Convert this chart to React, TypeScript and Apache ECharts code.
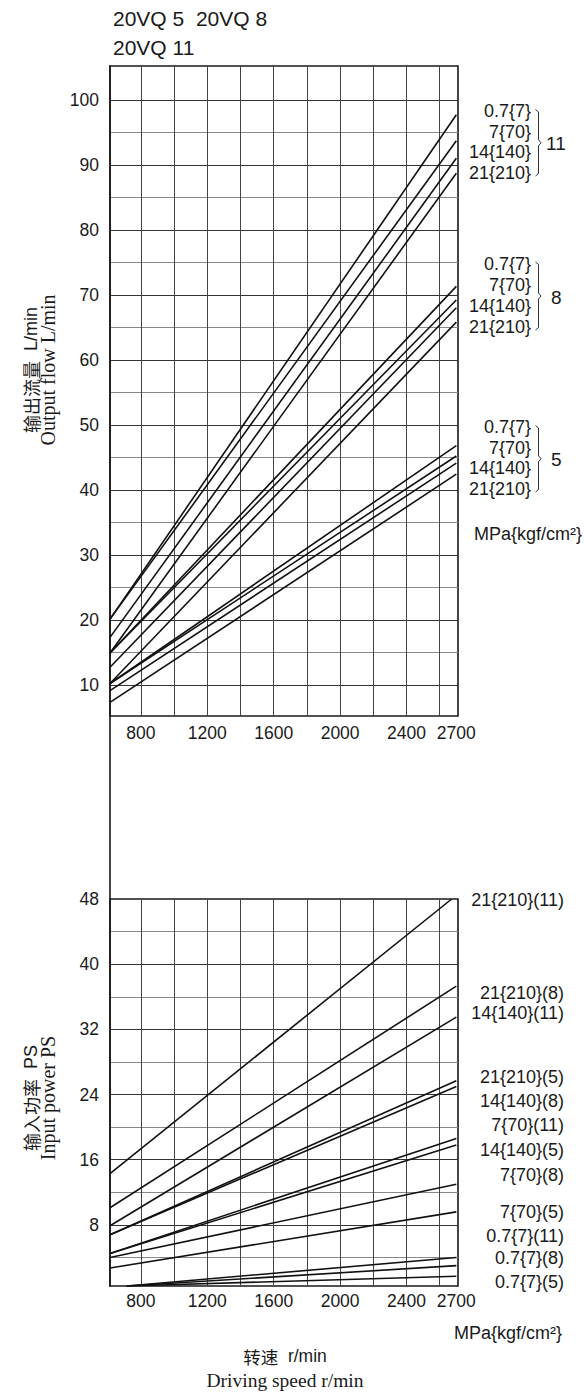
import React, { useEffect, useRef } from "react";
import * as echarts from "echarts";

// ---------- axes ----------
const speedMin = 614;
const speedMax = 2710;
const speedAxisLabels = [800, 1200, 1600, 2000, 2400, 2700];
const speedGridLines = [800, 1000, 1200, 1400, 1600, 1800, 2000, 2200, 2400, 2600];

const flowMin = 5.2;
const flowMax = 105.2;
const flowAxisLabels = [10, 20, 30, 40, 50, 60, 70, 80, 90, 100];
const flowGridLines = [10, 15, 20, 25, 30, 35, 40, 45, 50, 55, 60, 65, 70, 75, 80, 85, 90, 95, 100];

const powerMin = 0.5;
const powerMax = 48;
const powerAxisLabels = [8, 16, 24, 32, 40, 48];
const powerGridLines = [4, 8, 12, 16, 20, 24, 28, 32, 36, 40, 44];

// ---------- output flow (L/min) vs speed (r/min) ----------
const pressureLabels = ["0.7{7}", "7{70}", "14{140}", "21{210}"];
const flowVQ11 = [
  [[614, 20.1], [2700, 97.7]],
  [[614, 20.1], [2700, 93.7]],
  [[614, 17.3], [2700, 91.0]],
  [[614, 14.9], [2700, 88.7]],
];
const flowVQ8 = [
  [[614, 14.9], [2700, 71.3]],
  [[614, 14.9], [2700, 69.2]],
  [[614, 12.7], [2700, 68.0]],
  [[614, 10.2], [2700, 65.8]],
];
const flowVQ5 = [
  [[614, 10.2], [2700, 46.8]],
  [[614, 10.2], [2700, 45.2]],
  [[614, 9.1], [2700, 44.1]],
  [[614, 7.3], [2700, 42.4]],
];

// ---------- input power (PS) vs speed (r/min) ----------
const powerLineNames = [
  "21{210}(11)",
  "21{210}(8)",
  "14{140}(11)",
  "21{210}(5)",
  "14{140}(8)",
  "7{70}(11)",
  "14{140}(5)",
  "7{70}(8)",
  "7{70}(5)",
  "0.7{7}(11)",
  "0.7{7}(8)",
  "0.7{7}(5)",
];
const powerLinePoints = [
  [[614, 14.3], [2672, 48.0]],
  [[614, 10.1], [2700, 37.3]],
  [[614, 7.9], [2700, 33.5]],
  [[614, 6.8], [2700, 25.7]],
  [[614, 6.8], [2700, 25.0]],
  [[614, 4.5], [2700, 18.6]],
  [[614, 4.5], [2700, 17.8]],
  [[614, 4.0], [2700, 13.0]],
  [[614, 2.7], [2700, 9.6]],
  [[715, 0.5], [2700, 4.0]],
  [[715, 0.5], [2700, 3.0]],
  [[715, 0.5], [2700, 1.7]],
];

const SANS = "'Liberation Sans', Arial, sans-serif";
const CJK = "'Noto Sans CJK SC', sans-serif";
const SERIF = "'Liberation Serif', 'Times New Roman', serif";
const INK = "#1a1a1a";

function makeXAxis(gridIndex: number, labelMargin: number) {
  return {
    type: "value",
    gridIndex,
    min: speedMin,
    max: speedMax,
    axisLine: { show: false },
    axisTick: { show: false, customValues: speedGridLines },
    axisLabel: {
      customValues: speedAxisLabels,
      formatter: (v: number) => String(v),
      fontSize: 17.5,
      fontFamily: SANS,
      color: INK,
      margin: labelMargin,
    },
    splitLine: {
      show: true,
      customValues: speedGridLines,
      lineStyle: { color: "#444", width: 1 },
    },
  };
}

function makeYAxis(gridIndex: number, min: number, max: number, labels: number[], grid: number[], colors: string[]) {
  return {
    type: "value",
    gridIndex,
    min,
    max,
    axisLine: { show: true, lineStyle: { color: INK, width: 1.6 } },
    axisTick: { show: false, customValues: grid },
    axisLabel: {
      customValues: labels,
      formatter: (v: number) => String(v),
      fontSize: 17.5,
      fontFamily: SANS,
      color: INK,
      margin: 11,
      padding: [7, 0, 0, 0],
    },
    splitLine: {
      show: true,
      customValues: grid,
      lineStyle: { color: colors, width: 1 },
    },
  };
}

function lineSeries(name: string, data: number[][], axisIndex: number) {
  return {
    type: "line",
    name,
    data,
    xAxisIndex: axisIndex,
    yAxisIndex: axisIndex,
    symbol: "none",
    silent: true,
    clip: true,
    lineStyle: { color: "#111", width: 1.6 },
  };
}

function txt(text: string, x: number, y: number, size: number, align: string, family = SANS, rotation = 0) {
  return {
    type: "text",
    x,
    y,
    rotation,
    silent: true,
    style: {
      text,
      fill: INK,
      fontSize: size,
      fontFamily: family,
      lineHeight: size,
      align,
      verticalAlign: "middle",
    },
  };
}

// mixed Chinese + Latin caption as rich text
function mixed(cn: string, latin: string, x: number, y: number, size: number, rotation = 0) {
  return {
    type: "text",
    x,
    y,
    rotation,
    silent: true,
    style: {
      text: `{c|${cn}}{l|  ${latin}}`,
      fill: INK,
      align: "center",
      verticalAlign: "middle",
      rich: {
        c: { fontFamily: CJK, fontSize: size, lineHeight: size, fill: INK },
        l: { fontFamily: SANS, fontSize: size, lineHeight: size, fill: INK },
      },
    },
  };
}

function bracket(x: number, y0: number, y1: number) {
  const mid = (y0 + y1) / 2;
  return {
    type: "polyline",
    silent: true,
    shape: {
      points: [
        [x - 3, y0],
        [x, y0 + 2.5],
        [x, mid - 3],
        [x + 2.5, mid],
        [x, mid + 3],
        [x, y1 - 2.5],
        [x - 3, y1],
      ],
    },
    style: { stroke: "#333", lineWidth: 1, fill: null },
  };
}

export default function App() {
  const ref = useRef<HTMLDivElement>(null);

  useEffect(() => {
    if (!ref.current) return;
    const chart = echarts.init(ref.current, null, { renderer: "svg" });

    const series: any[] = [];
    [flowVQ11, flowVQ8, flowVQ5].forEach((group, gi) => {
      const model = ["11", "8", "5"][gi];
      group.forEach((pts, i) => series.push(lineSeries(`${pressureLabels[i]} (${model})`, pts, 0)));
    });
    powerLinePoints.forEach((pts, i) => series.push(lineSeries(powerLineNames[i], pts, 1)));

    const groupLabelY = [
      [111, 131.5, 152, 172.5],
      [263.5, 284.5, 305.5, 326.5],
      [427, 447.5, 468, 488.5],
    ];
    const groupNames = ["11", "8", "5"];
    const groupNameX = [546, 551, 551];
    const graphics: any[] = [];

    graphics.push(txt("20VQ 5  20VQ 8", 113, 18.5, 21, "left"));
    graphics.push(txt("20VQ 11", 113, 47, 21, "left"));

    groupLabelY.forEach((ys, gi) => {
      ys.forEach((y, i) => graphics.push(txt(pressureLabels[i], 531, y, 18, "right")));
      graphics.push(bracket(538.5, ys[0] - 1.5, ys[3] + 3.5));
      graphics.push(txt(groupNames[gi], groupNameX[gi], (ys[0] + ys[3]) / 2 + 2, 19, "left"));
    });
    graphics.push(txt("MPa{kgf/cm²}", 582, 534, 18, "right"));

    const powerLabelY = [899.5, 992.7, 1012.7, 1076.7, 1100.7, 1125, 1150, 1174.5, 1212, 1236, 1258.3, 1282];
    powerLineNames.forEach((n, i) => graphics.push(txt(n, 564, powerLabelY[i], 18, "right")));
    graphics.push(txt("MPa{kgf/cm²}", 562, 1333, 18, "right"));

    graphics.push(mixed("转速", "r/min", 285, 1356, 17.5));
    graphics.push(txt("Driving speed r/min", 285, 1380.5, 19.5, "center", SERIF));

    graphics.push(mixed("输出流量", "L/min", 31, 370, 18, Math.PI / 2));
    graphics.push(txt("Output flow L/min", 48, 370, 20, "center", SERIF, Math.PI / 2));
    graphics.push(mixed("输入功率", "PS", 31, 1098, 18, Math.PI / 2));
    graphics.push(txt("Input power PS", 48, 1098, 20, "center", SERIF, Math.PI / 2));

    // left spine continuing between the two panels
    graphics.push({
      type: "line",
      silent: true,
      shape: { x1: 110, y1: 716, x2: 110, y2: 899 },
      style: { stroke: INK, lineWidth: 1.6 },
    });

    chart.setOption({
      animation: false,
      backgroundColor: "#fff",
      grid: [
        { left: 110, top: 66, width: 348, height: 650, show: true, borderColor: INK, borderWidth: 1.6, backgroundColor: "transparent" },
        { left: 110, top: 899, width: 348, height: 387, show: true, borderColor: INK, borderWidth: 1.6, backgroundColor: "transparent" },
      ],
      xAxis: [makeXAxis(0, 8), makeXAxis(1, 6)],
      yAxis: [
        makeYAxis(0, flowMin, flowMax, flowAxisLabels, flowGridLines, ["#333", "#888"]),
        makeYAxis(1, powerMin, powerMax, powerAxisLabels, powerGridLines, ["#888", "#333"]),
      ],
      series,
      graphic: graphics,
    });

    return () => chart.dispose();
  }, []);

  return (
    <div
      ref={ref}
      style={{ position: "absolute", left: 0, top: 0, width: 584, height: 1392, background: "#fff" }}
    />
  );
}
